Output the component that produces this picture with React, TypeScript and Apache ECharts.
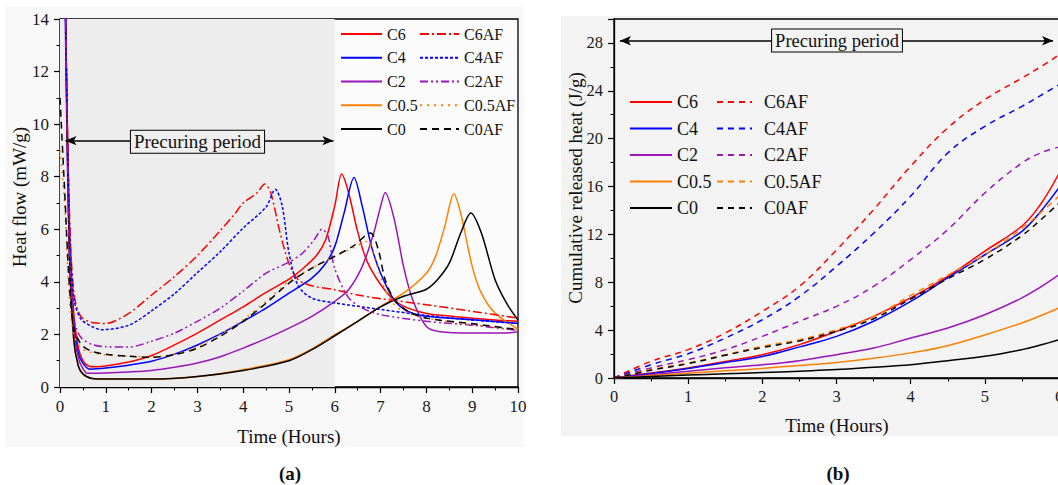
import React, { useEffect, useRef } from "react";
import * as echarts from "echarts";

const FONT = "Liberation Serif, Times New Roman, serif";

// ---------- Panel (a): heat flow (mW/g) vs time (h) ----------
const hfC6T = [0, 0.12, 0.2, 0.3, 0.4, 0.5, 0.62, 0.8, 1, 1.5, 2, 2.5, 3, 3.5, 4, 4.5, 5, 5.3, 5.6, 5.8, 6, 6.15, 6.3, 6.5, 6.7, 7, 7.3, 7.6, 8, 8.5, 9, 9.5, 10];
const hfC6V = [30, 14.5, 6.5, 2.8, 1.5, 1.0, 0.8, 0.77, 0.8, 0.95, 1.2, 1.6, 2.05, 2.55, 3.05, 3.6, 4.1, 4.5, 5.0, 5.6, 6.9, 8.1, 7.4, 5.9, 4.8, 3.9, 3.3, 3.0, 2.8, 2.7, 2.62, 2.55, 2.5];
const hfC4T = [0, 0.12, 0.2, 0.3, 0.4, 0.5, 0.65, 1, 1.5, 2, 2.5, 3, 3.5, 4, 4.5, 5, 5.5, 5.8, 6, 6.2, 6.42, 6.6, 6.8, 7, 7.3, 7.6, 8, 9, 10];
const hfC4V = [30, 13.5, 5.5, 2.4, 1.3, 0.9, 0.68, 0.72, 0.83, 0.98, 1.25, 1.6, 2.02, 2.5, 3.0, 3.57, 4.14, 4.7, 5.35, 6.6, 7.97, 6.87, 5.35, 4.33, 3.3, 2.88, 2.69, 2.56, 2.42];
const hfC2T = [0, 0.12, 0.2, 0.3, 0.4, 0.5, 0.6, 1, 1.5, 2, 2.5, 3, 3.5, 4, 4.5, 5, 5.5, 6, 6.3, 6.6, 6.85, 7, 7.1, 7.3, 7.5, 7.7, 8, 8.3, 9, 9.7, 10];
const hfC2V = [30, 14.5, 6, 2.2, 1.1, 0.7, 0.52, 0.53, 0.57, 0.63, 0.75, 0.91, 1.15, 1.48, 1.84, 2.24, 2.69, 3.26, 3.7, 4.59, 5.86, 6.87, 7.4, 6.36, 4.59, 3.32, 2.3, 2.1, 2.05, 2.05, 2.1];
const hfC05T = [0, 0.12, 0.2, 0.3, 0.4, 0.5, 0.7, 1, 2, 3, 4, 5, 5.5, 6, 6.5, 7, 7.5, 8, 8.2, 8.4, 8.6, 8.75, 9, 9.2, 9.5, 10];
const hfC05V = [30, 14.5, 5.5, 1.8, 0.8, 0.5, 0.32, 0.3, 0.3, 0.4, 0.66, 1.04, 1.45, 1.99, 2.5, 3.07, 3.57, 4.33, 4.97, 6.1, 7.35, 6.6, 4.59, 3.57, 2.81, 2.2];
const hfC0T = [0, 0.12, 0.2, 0.3, 0.4, 0.5, 0.7, 1, 2, 3, 4, 5, 5.5, 6, 6.5, 7, 7.5, 8, 8.25, 8.5, 8.75, 8.97, 9.2, 9.5, 9.75, 10];
const hfC0V = [30, 14.5, 5.5, 1.8, 0.8, 0.5, 0.32, 0.3, 0.3, 0.4, 0.63, 1.0, 1.42, 1.95, 2.5, 3.05, 3.45, 3.72, 4.1, 4.71, 5.86, 6.62, 5.86, 4.08, 3.19, 2.55];
const hfC6AFT = [0, 0.12, 0.2, 0.3, 0.45, 0.7, 1, 1.5, 2, 2.5, 3, 3.5, 3.8, 4, 4.3, 4.47, 4.6, 4.8, 5, 5.2, 5.5, 6, 6.5, 7, 8, 9, 10];
const hfC6AFV = [30, 14.5, 7, 3.6, 2.7, 2.45, 2.42, 2.8, 3.5, 4.2, 5.0, 5.95, 6.55, 7.0, 7.38, 7.72, 7.4, 5.9, 4.7, 4.08, 3.85, 3.7, 3.5, 3.36, 3.13, 2.88, 2.62];
const hfC4AFT = [0, 0.12, 0.2, 0.3, 0.45, 0.7, 0.9, 1.5, 2, 2.5, 3, 3.5, 4, 4.5, 4.7, 4.85, 5, 5.2, 5.5, 6, 7, 8, 9, 10];
const hfC4AFV = [30, 14.5, 6.5, 3.4, 2.6, 2.3, 2.18, 2.35, 2.9, 3.55, 4.35, 5.15, 6.05, 6.85, 7.52, 6.9, 5.1, 3.85, 3.38, 3.2, 2.95, 2.72, 2.55, 2.42];
const hfC2AFT = [0, 0.12, 0.2, 0.3, 0.45, 0.7, 1, 1.5, 2, 2.5, 3, 3.5, 4, 4.5, 5, 5.3, 5.55, 5.72, 5.85, 6, 6.3, 6.6, 7, 8, 9, 10];
const hfC2AFV = [30, 14.5, 5.5, 2.6, 1.9, 1.62, 1.53, 1.52, 1.74, 2.05, 2.5, 3.0, 3.65, 4.33, 4.75, 5.1, 5.6, 6.0, 5.75, 4.5, 3.4, 3.0, 2.75, 2.5, 2.35, 2.15];
const hfC05AFT = [0, 0.1, 0.2, 0.3, 0.45, 0.6, 1, 1.5, 2, 2.5, 3, 3.5, 4, 4.5, 5, 5.5, 6, 6.4, 6.7, 6.9, 7.1, 7.3, 7.6, 8, 9, 10];
const hfC05AFV = [9, 7, 3.5, 2.0, 1.5, 1.35, 1.22, 1.17, 1.15, 1.25, 1.55, 2.0, 2.56, 3.26, 4.02, 4.52, 4.97, 5.29, 5.54, 4.71, 3.7, 3.13, 2.81, 2.62, 2.37, 2.18];
const hfC0AFT = [0, 0.1, 0.2, 0.3, 0.4, 0.5, 0.7, 1, 1.5, 2, 2.5, 3, 3.5, 4, 4.5, 5, 5.5, 6, 6.4, 6.78, 6.95, 7.1, 7.3, 7.6, 8, 9, 10];
const hfC0AFV = [11, 7.5, 4, 2.2, 1.8, 1.55, 1.35, 1.25, 1.17, 1.13, 1.23, 1.48, 1.93, 2.5, 3.19, 3.95, 4.52, 4.97, 5.36, 5.86, 5.22, 4.08, 3.32, 2.88, 2.62, 2.41, 2.18];

// ---------- Panel (b): cumulative released heat (J/g) vs time (h) ----------
const cumT = [0, 0.5, 1, 1.5, 2, 2.5, 3, 3.5, 4, 4.5, 5, 5.5, 5.75, 6];
const cumC6 = [0, 0.42, 0.84, 1.39, 1.95, 2.79, 3.9, 5.15, 6.69, 8.5, 10.6, 12.7, 14.5, 17.1];
const cumC4 = [0, 0.38, 0.8, 1.3, 1.8, 2.6, 3.48, 4.74, 6.4, 8.36, 10.3, 12.26, 13.9, 15.9];
const cumC2 = [0, 0.28, 0.56, 0.85, 1.11, 1.45, 1.95, 2.5, 3.34, 4.18, 5.29, 6.69, 7.6, 8.64];
const cumC05 = [0, 0.2, 0.4, 0.6, 0.8, 1.05, 1.3, 1.65, 2.1, 2.7, 3.6, 4.6, 5.2, 5.85];
const cumC0 = [0, 0.12, 0.25, 0.35, 0.45, 0.57, 0.7, 0.9, 1.11, 1.45, 1.81, 2.37, 2.75, 3.2];
const cumC6AF = [0, 1.39, 2.37, 3.76, 5.57, 7.66, 10.7, 14.07, 17.7, 20.9, 23.26, 25.07, 26.0, 27.0];
const cumC4AF = [0, 1.11, 2.03, 3.34, 4.87, 6.82, 9.33, 12.1, 15.2, 18.8, 21.03, 22.7, 23.6, 24.5];
const cumC2AF = [0, 0.84, 1.53, 2.37, 3.48, 4.74, 5.99, 7.66, 9.89, 12.4, 15.46, 17.97, 18.8, 19.3];
const cumC05AF = [0, 0.7, 1.25, 1.95, 2.65, 3.2, 4.04, 5.15, 6.9, 8.6, 10.3, 12.5, 13.8, 15.2];
const cumC0AF = [0, 0.65, 1.2, 1.9, 2.55, 3.1, 3.9, 4.95, 6.6, 8.3, 9.9, 11.9, 13.2, 14.6];

const namesPlain = ["C6", "C4", "C2", "C0.5", "C0"];
const namesAF = ["C6AF", "C4AF", "C2AF", "C0.5AF", "C0AF"];

const RED = "#ff0000";
const BLUE = "#0000ff";
const PURPLE = "#9a15b8";
const ORANGE = "#ff8000";
const BLACK = "#000000";
const colors = [RED, BLUE, PURPLE, ORANGE, BLACK];

const zip = (t: number[], v: number[]) => t.map((x, i) => [x, v[i]]);

const hfPlain = [
  [hfC6T, hfC6V],
  [hfC4T, hfC4V],
  [hfC2T, hfC2V],
  [hfC05T, hfC05V],
  [hfC0T, hfC0V],
];
const hfAF = [
  [hfC6AFT, hfC6AFV],
  [hfC4AFT, hfC4AFV],
  [hfC2AFT, hfC2AFV],
  [hfC05AFT, hfC05AFV],
  [hfC0AFT, hfC0AFV],
];
const afDashA: any[] = [[9, 3, 2, 3], [3, 2], [8, 3, 2, 3, 2, 3], [2, 5], [7, 5]];
const cumPlain = [cumC6, cumC4, cumC2, cumC05, cumC0];
const cumAF = [cumC6AF, cumC4AF, cumC2AF, cumC05AF, cumC0AF];

const SUFFIX_B = " (b)";

function axisCommon(fontSize: number) {
  return {
    type: "value",
    axisLine: { show: true, onZero: false, lineStyle: { color: "#000", width: 1.3 } },
    axisTick: { show: true, inside: false, length: 6, lineStyle: { color: "#000", width: 1.2 } },
    minorTick: { show: true, splitNumber: 2, length: 3.5, lineStyle: { color: "#000", width: 1 } },
    axisLabel: { fontFamily: FONT, fontSize, color: "#1a1a1a", margin: 11 },
    splitLine: { show: false },
    minorSplitLine: { show: false },
  };
}

function buildOption(): any {
  const series: any[] = [];
  series.push({
    type: "line",
    xAxisIndex: 0,
    yAxisIndex: 0,
    data: [],
    z: 1,
    silent: true,
    markArea: {
      silent: true,
      itemStyle: { color: "#ededed" },
      data: [[{ xAxis: 0 }, { xAxis: 6 }]],
    },
    markLine: {
      silent: true,
      symbol: ["arrow", "arrow"],
      symbolSize: [7, 11],
      label: { show: false },
      lineStyle: { color: "#000", width: 1.5, type: "solid" },
      data: [[{ coord: [0.12, 9.37] }, { coord: [5.97, 9.37] }]],
    },
  });
  series.push({
    type: "line",
    xAxisIndex: 1,
    yAxisIndex: 1,
    data: [],
    z: 1,
    silent: true,
    markLine: {
      silent: true,
      symbol: ["arrow", "arrow"],
      symbolSize: [7, 11],
      label: { show: false },
      lineStyle: { color: "#000", width: 1.5, type: "solid" },
      data: [[{ coord: [0.08, 28.18] }, { coord: [5.92, 28.18] }]],
    },
  });

  namesPlain.forEach((n, i) => {
    series.push({
      name: n,
      type: "line",
      xAxisIndex: 0,
      yAxisIndex: 0,
      data: zip(hfPlain[i][0], hfPlain[i][1]),
      symbol: "none",
      showSymbol: false,
      smooth: 0.3,
      z: 3,
      clip: true,
      lineStyle: { color: colors[i], width: 1.5, type: "solid" },
      itemStyle: { color: colors[i] },
    });
  });
  namesAF.forEach((n, i) => {
    series.push({
      name: n,
      type: "line",
      xAxisIndex: 0,
      yAxisIndex: 0,
      data: zip(hfAF[i][0], hfAF[i][1]),
      symbol: "none",
      showSymbol: false,
      smooth: 0.3,
      z: 3,
      clip: true,
      lineStyle: { color: colors[i], width: 1.5, type: afDashA[i] },
      itemStyle: { color: colors[i] },
    });
  });
  namesPlain.forEach((n, i) => {
    series.push({
      name: n + SUFFIX_B,
      type: "line",
      xAxisIndex: 1,
      yAxisIndex: 1,
      data: zip(cumT, cumPlain[i]),
      symbol: "none",
      showSymbol: false,
      smooth: 0.4,
      z: 3,
      lineStyle: { color: colors[i], width: 1.5, type: "solid" },
      itemStyle: { color: colors[i] },
    });
  });
  namesAF.forEach((n, i) => {
    series.push({
      name: n + SUFFIX_B,
      type: "line",
      xAxisIndex: 1,
      yAxisIndex: 1,
      data: zip(cumT, cumAF[i]),
      symbol: "none",
      showSymbol: false,
      smooth: 0.4,
      z: 3,
      lineStyle: { color: colors[i], width: 1.5, type: [6, 5] },
      itemStyle: { color: colors[i] },
    });
  });

  const legendBase = {
    orient: "vertical",
    padding: 0,
    itemHeight: 14,
    selectedMode: false,
    itemStyle: { opacity: 0, borderWidth: 0 },
  };
  const strip = (name: string) => name.replace(SUFFIX_B, "");

  const txt = (x: number, y: number, text: string, size: number, opts: any = {}) => ({
    type: "text",
    x,
    y,
    z: 100,
    rotation: opts.rotation || 0,
    silent: true,
    style: {
      text,
      font: `${opts.bold ? "bold " : ""}${size}px ${FONT}`,
      fill: "#111",
      align: "center",
      verticalAlign: "middle",
      ...(opts.style || {}),
    },
  });

  return {
    animation: false,
    backgroundColor: "#ffffff",
    graphic: [
      { type: "rect", z: -10, silent: true, shape: { x: 5, y: 7, width: 519, height: 440 }, style: { fill: "#f8f8f8" } },
      { type: "rect", z: -10, silent: true, shape: { x: 561, y: 16, width: 497, height: 420 }, style: { fill: "#f3f3f3" } },
      txt(289, 436, "Time (Hours)", 19),
      txt(19.5, 197, "Heat flow (mW/g)", 19, { rotation: Math.PI / 2 }),
      txt(290, 473, "(a)", 19, { bold: true }),
      txt(837, 425, "Time (Hours)", 19),
      txt(575, 188, "Cumulative released heat (J/g)", 19, { rotation: Math.PI / 2 }),
      txt(838, 473, "(b)", 19, { bold: true }),
      txt(197.5, 141.7, "Precuring period", 19, {
        style: { backgroundColor: "#efefef", borderColor: "#000", borderWidth: 1, padding: [2, 3, 1, 3] },
      }),
      txt(837, 40.5, "Precuring period", 18.5, {
        style: { backgroundColor: "#f3f3f3", borderColor: "#000", borderWidth: 1, padding: [2, 3, 1, 3] },
      }),
    ],
    grid: [
      { left: 60, top: 19, width: 458, height: 368, show: true, borderColor: "#000", borderWidth: 1.3, backgroundColor: "#fbfbfb", outerBoundsMode: "none", containLabel: false },
      { left: 614, top: 19, width: 445, height: 359, show: true, borderColor: "#000", borderWidth: 1.3, backgroundColor: "#f3f3f3", outerBoundsMode: "none", containLabel: false },
    ],
    xAxis: [
      { ...axisCommon(17), gridIndex: 0, min: 0, max: 10, interval: 1 },
      { ...axisCommon(16), gridIndex: 1, min: 0, max: 6, interval: 1, axisLabel: { fontFamily: FONT, fontSize: 16.5, color: "#1a1a1a", margin: 10 } },
    ],
    yAxis: [
      { ...axisCommon(17), gridIndex: 0, min: 0, max: 14, interval: 2 },
      {
        ...axisCommon(16.5),
        gridIndex: 1,
        min: 0,
        max: 30,
        interval: 4,
        axisLabel: { fontFamily: FONT, fontSize: 16.5, color: "#1a1a1a", margin: 11, showMaxLabel: false },
      },
    ],
    legend: [
      {
        ...legendBase,
        left: 340,
        top: 26,
        itemWidth: 41,
        itemGap: 7.75,
        data: namesPlain,
        textStyle: { fontFamily: FONT, fontSize: 16, color: "#111" },
      },
      {
        ...legendBase,
        left: 419,
        top: 26,
        itemWidth: 39,
        itemGap: 7.75,
        data: namesAF,
        textStyle: { fontFamily: FONT, fontSize: 16, color: "#111" },
      },
      {
        ...legendBase,
        left: 629,
        top: 93,
        itemWidth: 42,
        itemGap: 8.5,
        data: namesPlain.map((n) => n + SUFFIX_B),
        formatter: strip,
        textStyle: { fontFamily: FONT, fontSize: 18, color: "#111" },
      },
      {
        ...legendBase,
        left: 716,
        top: 93,
        itemWidth: 35,
        itemGap: 8.5,
        data: namesAF.map((n) => n + SUFFIX_B),
        formatter: strip,
        textStyle: { fontFamily: FONT, fontSize: 18, color: "#111", padding: [0, 0, 0, 7] },
      },
    ],
    series,
  };
}

export default function App() {
  const ref = useRef<HTMLDivElement>(null);
  useEffect(() => {
    if (!ref.current) return;
    const chart = echarts.init(ref.current, undefined, { renderer: "svg" });
    chart.setOption(buildOption());
    return () => chart.dispose();
  }, []);
  return (
    <div
      ref={ref}
      style={{ position: "fixed", left: 0, top: 0, width: 1058, height: 485 }}
    />
  );
}
